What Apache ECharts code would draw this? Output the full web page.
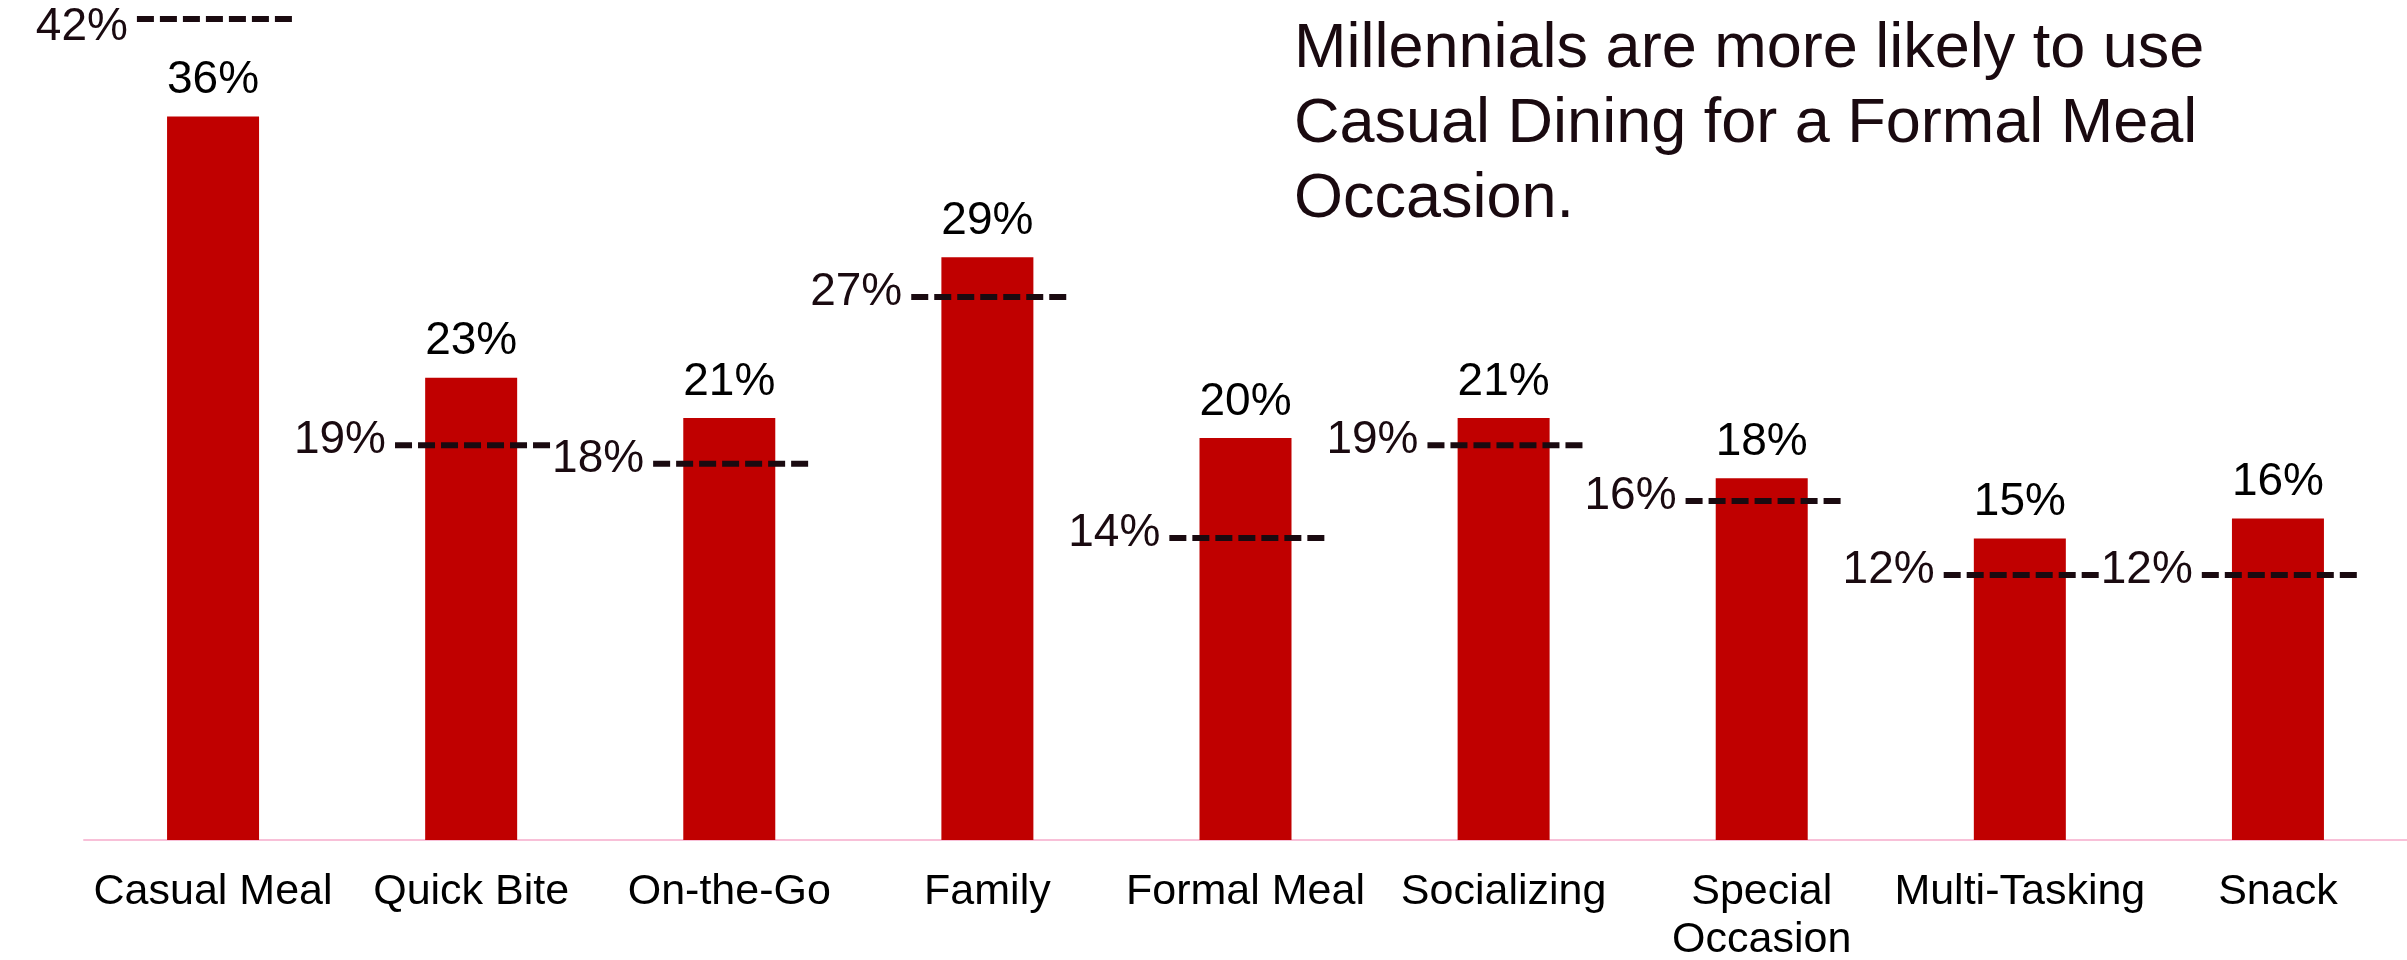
<!DOCTYPE html>
<html>
<head>
<meta charset="utf-8">
<title>Meal occasions</title>
<script src="https://cdn.jsdelivr.net/npm/echarts@6/dist/echarts.min.js"></script>
<style>
  html, body { margin: 0; padding: 0; background: #ffffff; }
  #chart { width: 2407px; height: 960px; }
</style>
</head>
<body>
<div id="chart"></div>
<script>
// Occasion categories along the x axis
const categories = ['Casual Meal', 'Quick Bite', 'On-the-Go', 'Family', 'Formal Meal',
  'Socializing', 'Special\nOccasion', 'Multi-Tasking', 'Snack'];
// Millennial share per occasion (bars, %)
const millennialShare = [36, 23, 21, 29, 20, 21, 18, 15, 16];
// Comparison share per occasion (dashed markers, %)
const benchmarkShare = [42, 19, 18, 27, 14, 19, 16, 12, 12];
// Headline text, one entry per line
const headlineLines = ['Millennials are more likely to use', 'Casual Dining for a Formal Meal', 'Occasion.'];

const FONT = '"Liberation Sans", Arial, Helvetica, sans-serif';
const INK = '#1a0a10';
const chart = echarts.init(document.getElementById('chart'));

chart.setOption({
  animation: false,
  backgroundColor: '#ffffff',
  grid: { left: 84, right: 0, top: 8, bottom: 120, containLabel: false, outerBoundsMode: 'none' },
  xAxis: {
    type: 'category',
    data: categories,
    axisLine: { lineStyle: { color: '#F8C0D8', width: 2 } },
    axisTick: { show: false },
    axisLabel: {
      color: '#000000', fontSize: 43, fontFamily: FONT, lineHeight: 48,
      margin: 28, interval: 0
    }
  },
  yAxis: [
    // bar scale
    { type: 'value', min: 0, max: 41.4, show: false, splitLine: { show: false } },
    // overlay scale for the dashed comparison markers
    { type: 'value', min: -2.3, max: 42.6, show: false, splitLine: { show: false } }
  ],
  graphic: [{
    type: 'text',
    left: 1294,
    top: 12,
    style: {
      text: headlineLines.join('\n'),
      fontSize: 63, fontFamily: FONT, lineHeight: 75,
      fill: INK
    }
  }],
  series: [
    {
      type: 'bar',
      data: millennialShare,
      yAxisIndex: 0,
      barWidth: 92,
      itemStyle: { color: '#C00000' },
      label: {
        show: true, position: 'top', distance: 13,
        formatter: '{c}%', color: '#000000', fontSize: 46, fontFamily: FONT
      },
      z: 2
    },
    {
      type: 'custom',
      data: benchmarkShare.map((v, i) => [i, v]),
      yAxisIndex: 1,
      clip: false,
      z: 3,
      renderItem: function (params, api) {
        const value = api.value(1);
        const p = api.coord([api.value(0), value]);
        const band = api.size([1, 0])[0];
        const x1 = p[0] - band * 0.295;
        const x2 = p[0] + band * 0.318;
        // keep the text inside the canvas when the marker sits at the very top
        const ty = Math.max(p[1] - 5, 27);
        return {
          type: 'group',
          children: [
            {
              type: 'line',
              shape: { x1: x1, y1: p[1], x2: x2, y2: p[1] },
              style: { stroke: INK, lineWidth: 6, lineDash: [17, 6] }
            },
            {
              type: 'text',
              x: x1 - 9,
              y: ty,
              style: {
                text: value + '%',
                fontSize: 46, fontFamily: FONT,
                fill: INK, align: 'right', verticalAlign: 'middle'
              }
            }
          ]
        };
      }
    }
  ]
});
</script>
</body>
</html>
